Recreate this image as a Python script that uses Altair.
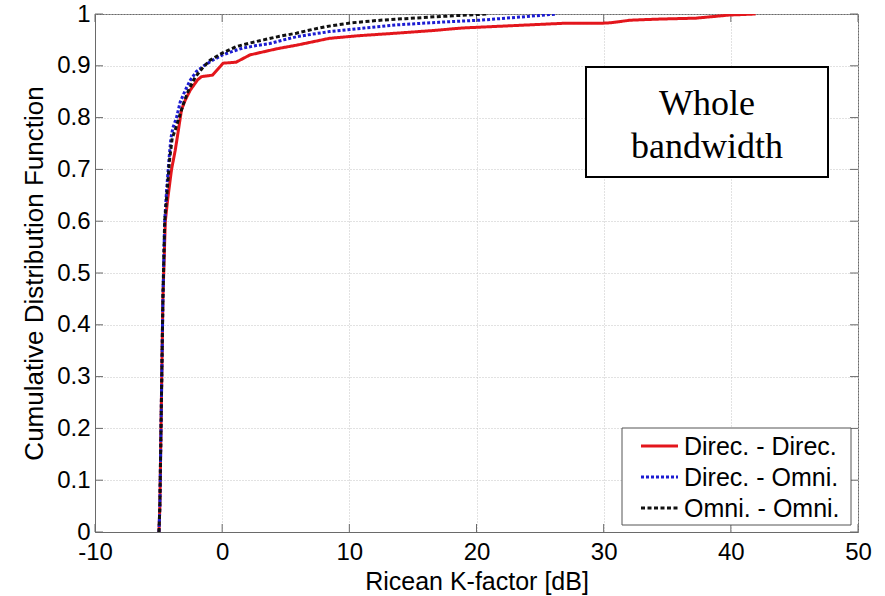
import altair as alt
import pandas as pd

# Ricean K-factor (dB) vs. empirical CDF for each antenna configuration
dd_k = [-4.97, -4.90, -4.81, -4.66, -4.47, -4.27, -3.98, -3.69, -3.44, -3.20, -2.90,
        -2.51, -1.93, -1.63, -0.755, -0.17, 0.076, 1.10, 2.18, 3.25, 4.33, 5.89, 7.26,
        8.43, 10.68, 13.71, 16.54, 18.89, 22.40, 26.80, 29.73, 30.52, 32.08, 34.13,
        37.26, 39.90, 41.95]
dd_cdf = [0.0, 0.05, 0.2, 0.45, 0.6, 0.645, 0.70, 0.737, 0.776, 0.815, 0.834, 0.853,
          0.873, 0.879, 0.882, 0.898, 0.905, 0.907, 0.921, 0.927, 0.933, 0.940, 0.947,
          0.953, 0.958, 0.963, 0.968, 0.973, 0.977, 0.982, 0.982, 0.983, 0.988, 0.990,
          0.992, 0.998, 1.0]

do_k = [-4.97, -4.90, -4.81, -4.66, -4.52, -4.37, -4.18, -4.03, -3.88, -3.59, -3.30,
        -2.90, -2.51, -2.03, -1.44, -0.73, 0.03, 0.71, 1.59, 2.67, 3.74, 4.82, 5.84,
        7.06, 8.43, 11.17, 13.71, 17.03, 20.26, 23.38, 26.31]
do_cdf = [0.0, 0.05, 0.2, 0.45, 0.6, 0.66, 0.72, 0.76, 0.78, 0.80, 0.83, 0.853, 0.872,
          0.889, 0.900, 0.911, 0.921, 0.927, 0.934, 0.939, 0.943, 0.950, 0.956, 0.961,
          0.966, 0.973, 0.979, 0.984, 0.988, 0.994, 1.0]

oo_k = [-4.97, -4.90, -4.81, -4.66, -4.52, -4.32, -4.13, -3.93, -3.69, -3.39, -3.00,
        -2.61, -2.12, -1.54, -0.95, -0.04, 1.10, 2.18, 3.25, 4.52, 5.84, 7.06, 8.24,
        10.19, 12.44, 14.39, 16.35, 18.50, 20.84]
oo_cdf = [0.0, 0.05, 0.2, 0.45, 0.6, 0.66, 0.72, 0.76, 0.776, 0.80, 0.83, 0.855, 0.878,
          0.896, 0.911, 0.924, 0.937, 0.944, 0.950, 0.957, 0.963, 0.970, 0.976, 0.983,
          0.988, 0.991, 0.994, 0.997, 1.0]

series_names = ["Direc. - Direc.", "Direc. - Omni.", "Omni. - Omni."]
series_colors = ["#e3161c", "#1c1cd2", "#111111"]
series_dash = [[1, 0], [3, 2], [4, 2.5]]

x_ticks = [-10, 0, 10, 20, 30, 40, 50]
y_ticks = [0, 0.1, 0.2, 0.3, 0.4, 0.5, 0.6, 0.7, 0.8, 0.9, 1.0]

W, H = 763, 518
AXIS_GRAY = "#6a6a6a"
SANS = "Liberation Sans"
SERIF = "Liberation Serif"

xs = alt.Scale(domain=[-10, 50], nice=False, zero=False)
ys = alt.Scale(domain=[0, 1], nice=False, zero=False)
x_axis = alt.Axis(values=x_ticks, labelExpr="datum.value + ''", ticks=False,
                  labelPadding=8, titlePadding=5, labelFlush=False, titleFontSize=25)
y_axis = alt.Axis(values=y_ticks, format=".1~f", ticks=False, labelPadding=5,
                  titlePadding=9, labelFlush=False, titleFontSize=26)
X_TITLE = "Ricean K-factor [dB]"
Y_TITLE = "Cumulative Distribution Function"


def xenc(field):
    return alt.X(field, type="quantitative", scale=xs, axis=x_axis, title=X_TITLE)


def yenc(field):
    return alt.Y(field, type="quantitative", scale=ys, axis=y_axis, title=Y_TITLE)


# Inward tick marks on all four sides
xt = pd.DataFrame({"v": x_ticks})
yt = pd.DataFrame({"v": y_ticks})
tick_style = dict(color=AXIS_GRAY, strokeWidth=1)
ticks = [
    alt.Chart(xt).mark_rule(**tick_style).encode(
        x=xenc("v"), y=alt.value(H - 8), y2=alt.value(H)),
    alt.Chart(xt).mark_rule(**tick_style).encode(
        x=xenc("v"), y=alt.value(0), y2=alt.value(8)),
    alt.Chart(yt).mark_rule(**tick_style).encode(
        y=yenc("v"), x=alt.value(0), x2=alt.value(8)),
    alt.Chart(yt).mark_rule(**tick_style).encode(
        y=yenc("v"), x=alt.value(W - 8), x2=alt.value(W)),
]

# CDF curves
curves = []
for k, c, col, dash in zip([dd_k, do_k, oo_k], [dd_cdf, do_cdf, oo_cdf],
                           series_colors, series_dash):
    df = pd.DataFrame({"k": k, "cdf": c, "i": range(len(k))})
    curves.append(
        alt.Chart(df).mark_line(color=col, strokeWidth=3, strokeDash=dash,
                                strokeCap="butt", clip=True).encode(
            x=xenc("k"), y=yenc("cdf"), order="i:Q",
        )
    )

one = pd.DataFrame({"a": [0]})

# Legend box
legend_layers = [
    alt.Chart(one).mark_rect(fill="white", stroke="#555555", strokeWidth=1).encode(
        x=alt.value(527), x2=alt.value(756), y=alt.value(414), y2=alt.value(511))
]
for idx, (name, col, dash) in enumerate(zip(series_names, series_colors, series_dash)):
    ry = 432 + 31 * idx
    legend_layers.append(
        alt.Chart(one).mark_rule(color=col, strokeWidth=3, strokeDash=dash,
                                 strokeCap="butt").encode(
            x=alt.value(546), x2=alt.value(583), y=alt.value(ry)))
    legend_layers.append(
        alt.Chart(one).mark_text(text=name, font=SANS, fontSize=25, align="left",
                                 baseline="middle", color="#000").encode(
            x=alt.value(589), y=alt.value(ry + 1)))

# Annotation box
note_layers = [
    alt.Chart(one).mark_rect(fill="white", stroke="#000", strokeWidth=2).encode(
        x=alt.value(491), x2=alt.value(733), y=alt.value(53), y2=alt.value(163)),
    alt.Chart(one).mark_text(text="Whole", font=SERIF, fontSize=36, align="center",
                             baseline="middle", color="#000").encode(
        x=alt.value(612), y=alt.value(90)),
    alt.Chart(one).mark_text(text="bandwidth", font=SERIF, fontSize=36, align="center",
                             baseline="middle", color="#000").encode(
        x=alt.value(612), y=alt.value(133)),
]

chart = alt.layer(*ticks, *curves, *note_layers, *legend_layers).properties(
    width=W, height=H,
    autosize=alt.AutoSizeParams(type="none"),
    padding={"left": 95, "top": 14, "right": 27, "bottom": 64},
    background="white",
).configure_view(
    stroke=AXIS_GRAY, strokeWidth=1
).configure_axis(
    domainColor=AXIS_GRAY, domainWidth=1,
    grid=True, gridColor="#c4c4c4", gridDash=[1, 2], gridWidth=1,
    labelFont=SANS, labelFontSize=24, labelColor="#000",
    titleFont=SANS, titleColor="#000", titleFontWeight="normal",
)

chart.save("out.html", embed_options={"renderer": "svg", "actions": False})
